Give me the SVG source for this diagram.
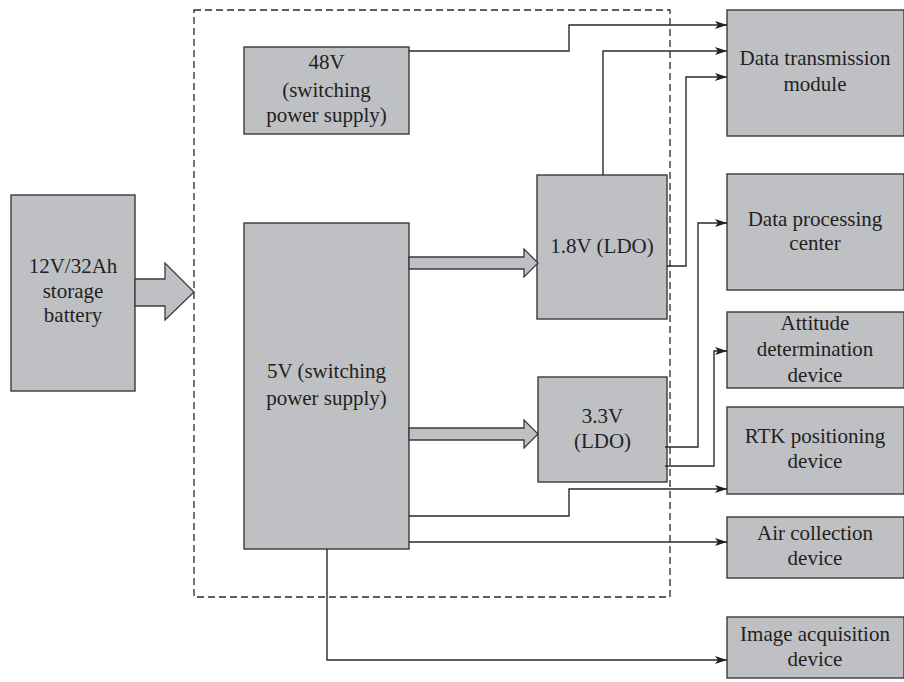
<svg xmlns="http://www.w3.org/2000/svg" width="904" height="682" viewBox="0 0 904 682">
  <style>
    .box { fill: #bfc0c4; stroke: #3a3a3a; stroke-width: 1.4; }
    .blk { fill: #bfc0c4; stroke: #3a3a3a; stroke-width: 1.3; stroke-linejoin: miter; }
    .lbl { font-family: "Liberation Serif", "Times New Roman", serif; font-size: 21px; fill: #231f20; text-anchor: middle; }
    .wire { fill: none; stroke: #2a2a2a; stroke-width: 1.4; }
    .frame { fill: none; stroke: #2a2a2a; stroke-width: 1.3; stroke-dasharray: 7 4; }
  </style>
  <defs>
    <marker id="head" viewBox="0 0 12 8" refX="12" refY="4" markerWidth="12" markerHeight="8" markerUnits="userSpaceOnUse" orient="auto">
      <path d="M0,0 L12,4 L0,8 L3,4 Z" fill="#231f20"/>
    </marker>
  </defs>

  <!-- dashed enclosure of the power conversion stage -->
  <rect class="frame" x="194" y="10" width="476" height="587"/>

  <g id="battery">
    <rect class="box" x="11" y="195" width="124" height="196"/>
    <text class="lbl" x="73" y="273">12V/32Ah</text>
    <text class="lbl" x="73" y="298">storage</text>
    <text class="lbl" x="73" y="322">battery</text>
  </g>

  <g id="psu48">
    <rect class="box" x="244" y="47" width="165" height="87"/>
    <text class="lbl" x="326.5" y="69">48V</text>
    <text class="lbl" x="326.5" y="97">(switching</text>
    <text class="lbl" x="326.5" y="122">power supply)</text>
  </g>

  <g id="psu5">
    <rect class="box" x="244" y="223" width="165" height="326"/>
    <text class="lbl" x="326.5" y="378">5V (switching</text>
    <text class="lbl" x="326.5" y="405">power supply)</text>
  </g>

  <g id="ldo18">
    <rect class="box" x="537" y="175" width="130" height="144"/>
    <text class="lbl" x="602" y="253">1.8V (LDO)</text>
  </g>

  <g id="ldo33">
    <rect class="box" x="538" y="377" width="129" height="105"/>
    <text class="lbl" x="602.5" y="423">3.3V</text>
    <text class="lbl" x="602.5" y="448">(LDO)</text>
  </g>

  <g id="dtm">
    <rect class="box" x="727" y="10" width="177" height="126"/>
    <text class="lbl" x="815" y="65">Data transmission</text>
    <text class="lbl" x="815" y="91">module</text>
  </g>

  <g id="dpc">
    <rect class="box" x="727" y="174" width="177" height="116"/>
    <text class="lbl" x="815" y="226">Data processing</text>
    <text class="lbl" x="815" y="250">center</text>
  </g>

  <g id="attitude">
    <rect class="box" x="727" y="312" width="177" height="76"/>
    <text class="lbl" x="815" y="330">Attitude</text>
    <text class="lbl" x="815" y="356">determination</text>
    <text class="lbl" x="815" y="382">device</text>
  </g>

  <g id="rtk">
    <rect class="box" x="727" y="407" width="177" height="87"/>
    <text class="lbl" x="815" y="443">RTK positioning</text>
    <text class="lbl" x="815" y="468">device</text>
  </g>

  <g id="air">
    <rect class="box" x="727" y="517" width="177" height="61"/>
    <text class="lbl" x="815" y="540">Air collection</text>
    <text class="lbl" x="815" y="565">device</text>
  </g>

  <g id="image">
    <rect class="box" x="727" y="617" width="177" height="61"/>
    <text class="lbl" x="815" y="641">Image acquisition</text>
    <text class="lbl" x="815" y="666">device</text>
  </g>

  <g id="connectors">
    <!-- block arrows: power feed -->
    <polygon class="blk" points="135,279 165,279 165,263 194,292 165,320 165,306 135,306"/>
    <polygon class="blk" points="409,257 524,257 524,249 538,263 524,277 524,269 409,269"/>
    <polygon class="blk" points="409,428 524,428 524,420 538,434 524,448 524,440 409,440"/>

    <!-- supply lines to the loads -->
    <polyline class="wire" points="409,51 569,51 569,25 727,25" marker-end="url(#head)"/>
    <polyline class="wire" points="603,175 603,51 727,51" marker-end="url(#head)"/>
    <polyline class="wire" points="667,266 686,266 686,77 727,77" marker-end="url(#head)"/>
    <polyline class="wire" points="665,447 698,447 698,223 727,223" marker-end="url(#head)"/>
    <polyline class="wire" points="665,466 714,466 714,351 727,351" marker-end="url(#head)"/>
    <polyline class="wire" points="409,516 569,516 569,489 727,489" marker-end="url(#head)"/>
    <polyline class="wire" points="409,542 727,542" marker-end="url(#head)"/>
    <polyline class="wire" points="327,549 327,660 727,660" marker-end="url(#head)"/>
  </g>
</svg>
